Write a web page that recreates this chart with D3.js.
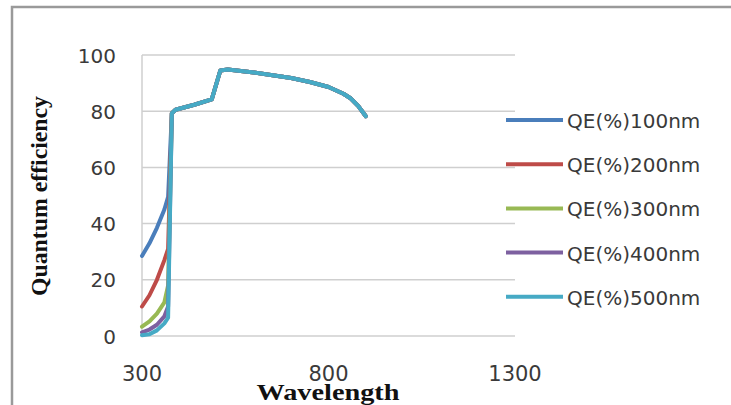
<!DOCTYPE html>
<html>
<head>
<meta charset="utf-8">
<script src="https://cdn.jsdelivr.net/npm/d3@7"></script>
<style>
  html, body { margin: 0; padding: 0; background: #fff; overflow: hidden; }
  svg { display: block; }
</style>
</head>
<body>
<div id="chart"></div>
<script>
// wavelengths (nm) of the readings
const shortWl = [300, 320, 340, 360, 370];
const longWl = [380, 390, 440, 487, 510, 530, 600, 650, 700, 750, 800, 840, 860, 880, 900];

// below the absorption edge each thickness differs
const qe100 = [28.5, 33, 38.5, 45, 49.5];
const qe200 = [10.5, 14.5, 20, 27, 31];
const qe300 = [3.3, 5.2, 8, 12, 18];
const qe400 = [1.3, 2.3, 4, 7, 10.5];
const qe500 = [0.3, 0.6, 2, 4.5, 6.5];

// above the edge all curves coincide
const qeLong = [79.3, 80.5, 82.3, 84.2, 94.5, 94.8, 93.8, 92.8, 91.8, 90.4, 88.6, 86.2, 84.5, 81.8, 78.2];

const seriesNames = ["QE(%)100nm", "QE(%)200nm", "QE(%)300nm", "QE(%)400nm", "QE(%)500nm"];
const seriesColors = ["#4a7ebb", "#be4b48", "#98b954", "#7d60a0", "#46aac5"];
const seriesShort = [qe100, qe200, qe300, qe400, qe500];

const xTicks = [300, 800, 1300];
const yTicks = [0, 20, 40, 60, 80, 100];

const width = 731, height = 405;

const svg = d3.select("#chart").append("svg")
    .attr("width", width)
    .attr("height", height);

// outer chart frame (top and left edges only are visible)
svg.append("path")
    .attr("d", `M12,${height + 5} L12,7 L${width + 5},7`)
    .attr("fill", "none")
    .attr("stroke", "#9a9a9a")
    .attr("stroke-width", 2.5);

const x = d3.scaleLinear().domain([300, 1300]).range([142, 515]);
const y = d3.scaleLinear().domain([0, 100]).range([336, 55]);

// gridlines
svg.append("g").selectAll("line")
    .data(yTicks)
    .join("line")
    .attr("x1", x(300)).attr("x2", x(1300))
    .attr("y1", d => y(d)).attr("y2", d => y(d))
    .attr("stroke", "#cfcfcf")
    .attr("stroke-width", 1.5);

// left axis line
svg.append("line")
    .attr("x1", x(300)).attr("x2", x(300))
    .attr("y1", y(0)).attr("y2", y(100))
    .attr("stroke", "#cfcfcf")
    .attr("stroke-width", 1.5);

// y tick labels
svg.append("g").selectAll("text")
    .data(yTicks)
    .join("text")
    .attr("x", 116)
    .attr("y", d => y(d) + 7.5)
    .attr("text-anchor", "end")
    .attr("font-family", "DejaVu Sans")
    .attr("font-size", 20)
    .attr("fill", "#3a3a3a")
    .text(d => d);

// x tick labels
svg.append("g").selectAll("text")
    .data(xTicks)
    .join("text")
    .attr("x", d => x(d))
    .attr("y", 381)
    .attr("text-anchor", "middle")
    .attr("font-family", "DejaVu Sans")
    .attr("font-size", 21)
    .attr("fill", "#3a3a3a")
    .text(d => d);

// axis titles
svg.append("text")
    .attr("transform", "translate(47,196) rotate(-90)")
    .attr("text-anchor", "middle")
    .attr("font-family", "Liberation Serif")
    .attr("font-weight", "bold")
    .attr("font-size", 24)
    .attr("textLength", 200)
    .attr("lengthAdjust", "spacingAndGlyphs")
    .attr("fill", "#111")
    .text("Quantum efficiency");

svg.append("text")
    .attr("x", 328)
    .attr("y", 400)
    .attr("text-anchor", "middle")
    .attr("font-family", "Liberation Serif")
    .attr("font-weight", "bold")
    .attr("font-size", 24)
    .attr("textLength", 143)
    .attr("lengthAdjust", "spacingAndGlyphs")
    .attr("fill", "#111")
    .text("Wavelength");

// series
const wl = shortWl.concat(longWl);
const series = seriesNames.map((name, i) => ({
    name: name,
    color: seriesColors[i],
    values: wl.map((w, j) => ({ w: w, q: j < shortWl.length ? seriesShort[i][j] : qeLong[j - shortWl.length] }))
}));

const line = d3.line()
    .x(d => x(d.w))
    .y(d => y(d.q));

svg.append("g").selectAll("path")
    .data(series)
    .join("path")
    .attr("d", d => line(d.values))
    .attr("fill", "none")
    .attr("stroke", d => d.color)
    .attr("stroke-width", 4)
    .attr("stroke-linejoin", "round")
    .attr("stroke-linecap", "round");

// legend
const legend = svg.append("g").selectAll("g")
    .data(series)
    .join("g")
    .attr("transform", (d, i) => `translate(0,${120 + i * 44.2})`);

legend.append("line")
    .attr("x1", 506).attr("x2", 563)
    .attr("stroke", d => d.color)
    .attr("stroke-width", 4);

legend.append("text")
    .attr("x", 567)
    .attr("y", 8)
    .attr("font-family", "DejaVu Sans")
    .attr("font-size", 20)
    .attr("fill", "#3a3a3a")
    .text(d => d.name);
</script>
</body>
</html>
